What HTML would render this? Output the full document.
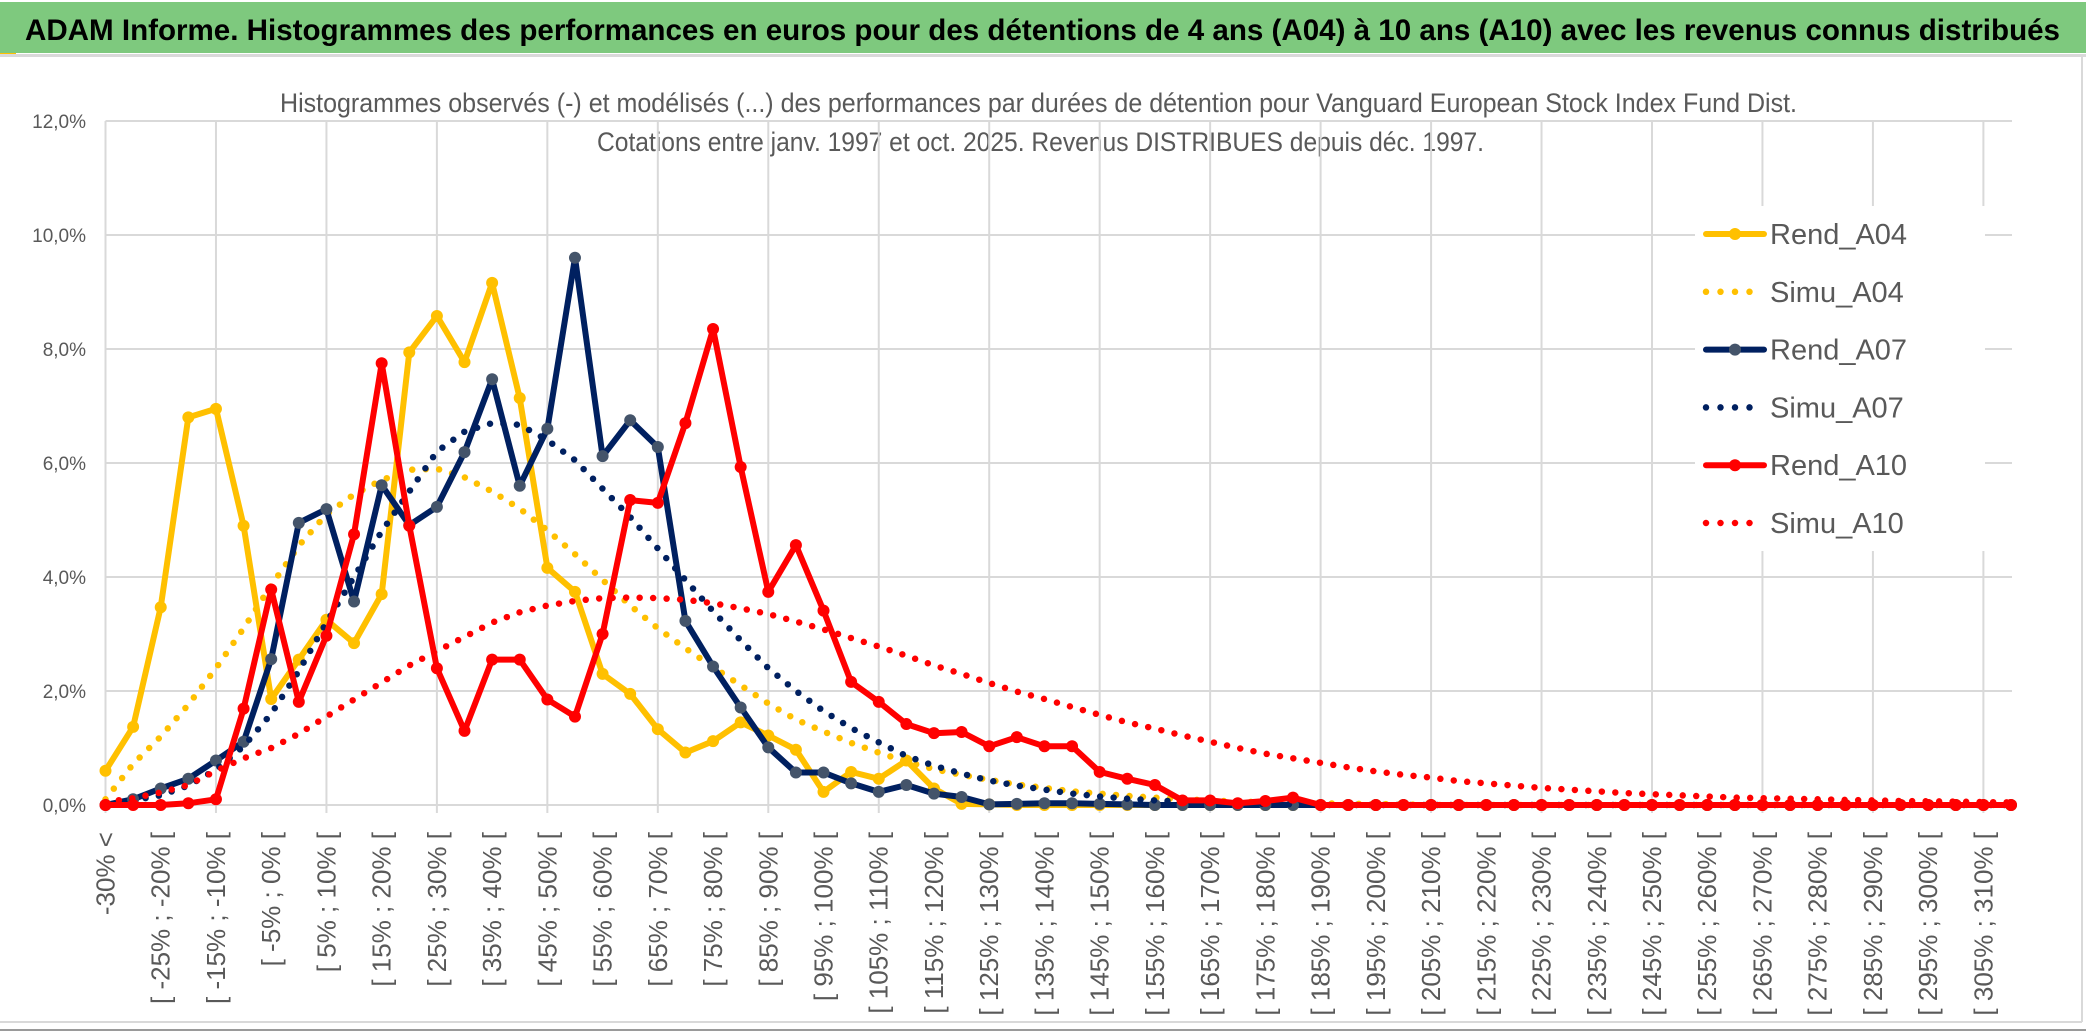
<!DOCTYPE html>
<html><head><meta charset="utf-8">
<style>
html,body{margin:0;padding:0;background:#fff;}
svg{display:block;font-family:"Liberation Sans",sans-serif;}
</style></head>
<body>
<svg id="chart" width="2086" height="1033" viewBox="0 0 2086 1033" xmlns="http://www.w3.org/2000/svg">
  <rect x="0" y="0" width="2086" height="1033" fill="#fff"/>
  <rect x="0" y="2" width="2086" height="51" fill="#7EC97E"/>
  <rect x="0" y="53" width="16" height="3" fill="#FFC000"/>
  <rect x="0" y="54" width="2086" height="3" fill="#d9d9d9"/>
  <text x="25" y="40" font-size="30" font-weight="bold" fill="#000" textLength="2035" lengthAdjust="spacingAndGlyphs">ADAM Informe. Histogrammes des performances en euros pour des détentions de 4 ans (A04) à 10 ans (A10) avec les revenus connus distribués</text>
  <text x="280" y="112" font-size="27" fill="#595959" textLength="1517" lengthAdjust="spacingAndGlyphs">Histogrammes observés (-) et modélisés (...) des performances par durées de détention pour Vanguard European Stock Index Fund Dist.</text>
  <text x="597" y="151" font-size="27" fill="#595959" textLength="887" lengthAdjust="spacingAndGlyphs">Cotations entre janv. 1997 et oct. 2025. Revenus DISTRIBUES depuis déc. 1997.</text>
  <g id="grid"></g>
  <g id="yaxis"></g>
  <g id="xaxis"></g>
  <g id="series"></g>
  <g id="legend"></g>
  <line x1="0" y1="1022" x2="2082" y2="1022" stroke="#d9d9d9" stroke-width="2"/>
  <line x1="2082" y1="57" x2="2082" y2="1022" stroke="#d9d9d9" stroke-width="2"/>
  <line x1="0" y1="1030" x2="2086" y2="1030" stroke="#9a9a9a" stroke-width="2"/>
</svg>
<script>
const categories = ['-30% <'];
for (let lo = -30; lo < 315; lo += 5) categories.push('[ ' + lo + '% ; ' + (lo + 5) + '% [');
const yTicks = [0, 2, 4, 6, 8, 10, 12];
const yTickLabels = ['0,0%', '2,0%', '4,0%', '6,0%', '8,0%', '10,0%', '12,0%'];
const rendA04 = [0.6,1.37,3.47,6.8,6.95,4.9,1.86,2.55,3.25,2.84,3.7,7.94,8.58,7.77,9.16,7.14,4.16,3.74,2.3,1.95,1.33,0.92,1.12,1.45,1.22,0.97,0.23,0.58,0.46,0.78,0.29,0.02,0.01,0,0,0,0,0,0,0,0,0,0,0,0,0,0,0,0,0,0,0,0,0,0,0,0,0,0,0,0,0,0,0,0,0,0,0,0,0];
const simuA04 = [0.1,0.72,1.2,1.76,2.4,3.1,3.85,4.55,5.1,5.45,5.7,5.88,5.9,5.75,5.5,5.2,4.82,4.4,3.95,3.5,3.1,2.75,2.42,2.1,1.78,1.5,1.29,1.09,0.92,0.76,0.63,0.53,0.44,0.36,0.3,0.24,0.2,0.16,0.13,0.1,0.08,0.06,0.05,0.04,0.03,0.02,0.02,0.01,0,0,0,0,0,0,0,0,0,0,0,0,0,0,0,0,0,0,0,0,0,0];
const rendA07 = [0,0.1,0.29,0.46,0.78,1.11,2.56,4.95,5.19,3.57,5.61,4.91,5.23,6.19,7.47,5.6,6.6,9.6,6.12,6.75,6.28,3.23,2.43,1.71,1.01,0.57,0.57,0.38,0.23,0.35,0.2,0.14,0.01,0.02,0.03,0.03,0.02,0.01,0,0,0,0,0,0,0,0,0,0,0,0,0,0,0,0,0,0,0,0,0,0,0,0,0,0,0,0,0,0,0,0];
const simuA07 = [0.02,0.08,0.17,0.34,0.62,1.03,1.6,2.35,3.2,4.0,4.8,5.5,6.2,6.55,6.7,6.67,6.4,6.05,5.55,5.05,4.5,3.95,3.4,2.89,2.4,2.0,1.65,1.35,1.1,0.86,0.69,0.55,0.43,0.34,0.27,0.2,0.15,0.11,0.08,0.06,0.04,0.03,0.02,0.01,0,0,0,0,0,0,0,0,0,0,0,0,0,0,0,0,0,0,0,0,0,0,0,0,0,0];
const rendA10 = [0,0,0,0.03,0.1,1.69,3.78,1.81,2.97,4.75,7.75,4.9,2.4,1.3,2.55,2.55,1.85,1.55,3.0,5.35,5.3,6.7,8.35,5.93,3.74,4.56,3.41,2.16,1.81,1.42,1.26,1.28,1.03,1.19,1.03,1.03,0.58,0.46,0.35,0.08,0.08,0.03,0.07,0.13,0,0,0,0,0,0,0,0,0,0,0,0,0,0,0,0,0,0,0,0,0,0,0,0,0,0];
const simuA10 = [0.05,0.12,0.22,0.35,0.6,0.82,1.0,1.25,1.55,1.85,2.15,2.45,2.7,2.95,3.2,3.38,3.5,3.58,3.63,3.64,3.63,3.6,3.54,3.45,3.35,3.22,3.08,2.93,2.78,2.62,2.45,2.3,2.14,1.99,1.86,1.72,1.58,1.45,1.34,1.22,1.11,1.0,0.9,0.82,0.74,0.66,0.59,0.53,0.48,0.42,0.38,0.34,0.3,0.27,0.24,0.21,0.19,0.17,0.15,0.13,0.12,0.11,0.1,0.09,0.08,0.07,0.065,0.06,0.05,0.045];
const seriesNames = ['Rend_A04','Simu_A04','Rend_A07','Simu_A07','Rend_A10','Simu_A10'];

const NS = 'http://www.w3.org/2000/svg';
const X0 = 105.5, X1 = 2011, Y0 = 805, Y1 = 121, YMAX = 12;
const xPos = i => X0 + i * (X1 - X0) / (categories.length - 1);
const yPos = v => Y0 - v / YMAX * (Y0 - Y1);
function mk(tag, attrs, parent) {
  const e = document.createElementNS(NS, tag);
  for (const k in attrs) e.setAttribute(k, attrs[k]);
  parent.appendChild(e);
  return e;
}
const grid = document.getElementById('grid');
const yaxis = document.getElementById('yaxis');
const xaxis = document.getElementById('xaxis');
const seriesG = document.getElementById('series');
const legendG = document.getElementById('legend');

yTicks.forEach((t, i) => {
  const l = mk('line', {x1: X0, x2: 2012, y1: yPos(t), y2: yPos(t), stroke: '#d9d9d9', 'stroke-width': 2}, grid);
  
  
  const tx = mk('text', {x: 86, y: yPos(t) + 7, 'text-anchor': 'end', 'font-size': 19, fill: '#595959'}, yaxis);
  tx.textContent = yTickLabels[i];
  
  
});
for (let i = 0; i < categories.length; i += 4) {
  const l = mk('line', {x1: xPos(i), x2: xPos(i), y1: Y1, y2: Y0 + 8, stroke: '#d9d9d9', 'stroke-width': 2}, grid);
  
  
}
for (let i = 0; i < categories.length; i += 2) {
  const x = xPos(i) + 9;
  const tx = mk('text', {x: x, y: 832, 'text-anchor': 'end', 'font-size': 26, fill: '#595959', transform: 'rotate(-90 ' + x + ' 832)'}, xaxis);
  tx.textContent = categories[i];
  
  
}

function drawSeries(vals, color, dotted, markerColor, name) {
  const g = mk('g', {}, seriesG);
  
  
  const pts = vals.map((v, i) => xPos(i).toFixed(1) + ',' + yPos(v).toFixed(1)).join(' ');
  const attrs = {points: pts, fill: 'none', stroke: color, 'stroke-width': dotted ? 6.5 : 6, 'stroke-linejoin': 'round', 'stroke-linecap': 'round'};
  if (dotted) attrs['stroke-dasharray'] = '0 13.5';
  const pl = mk('polyline', attrs, g);
  
  
  if (!dotted) {
    vals.forEach((v, i) => {
      const c = mk('circle', {cx: xPos(i), cy: yPos(v), r: 6, fill: markerColor}, g);
      
      
    });
  }
}
drawSeries(rendA04, '#FFC000', false, '#FFC000', 'rend-a04');
drawSeries(simuA04, '#FFC000', true, null, 'simu-a04');
drawSeries(rendA07, '#002060', false, '#44546A', 'rend-a07');
drawSeries(simuA07, '#002060', true, null, 'simu-a07');
drawSeries(rendA10, '#FF0000', false, '#FF0000', 'rend-a10');
drawSeries(simuA10, '#FF0000', true, null, 'simu-a10');

const lbg = mk('rect', {x: 1695, y: 206, width: 290, height: 345, fill: '#fff'}, legendG);


const legColors = ['#FFC000','#FFC000','#002060','#002060','#FF0000','#FF0000'];
const legMarkers = ['#FFC000',null,'#44546A',null,'#FF0000',null];
seriesNames.forEach((n, i) => {
  const y = 234 + i * 57.8;
  const g = mk('g', {}, legendG);
  
  
  if (legMarkers[i]) {
    mk('line', {x1: 1706, x2: 1764, y1: y, y2: y, stroke: legColors[i], 'stroke-width': 6, 'stroke-linecap': 'round'}, g);
    mk('circle', {cx: 1735, cy: y, r: 6, fill: legMarkers[i]}, g);
  } else {
    mk('line', {x1: 1706, x2: 1764, y1: y, y2: y, stroke: legColors[i], 'stroke-width': 6.5, 'stroke-linecap': 'round', 'stroke-dasharray': '0 14.5'}, g);
  }
  const t = mk('text', {x: 1770, y: y + 10, 'font-size': 29, fill: '#595959'}, g);
  t.textContent = n;
  
  
});
</script>
</body></html>
